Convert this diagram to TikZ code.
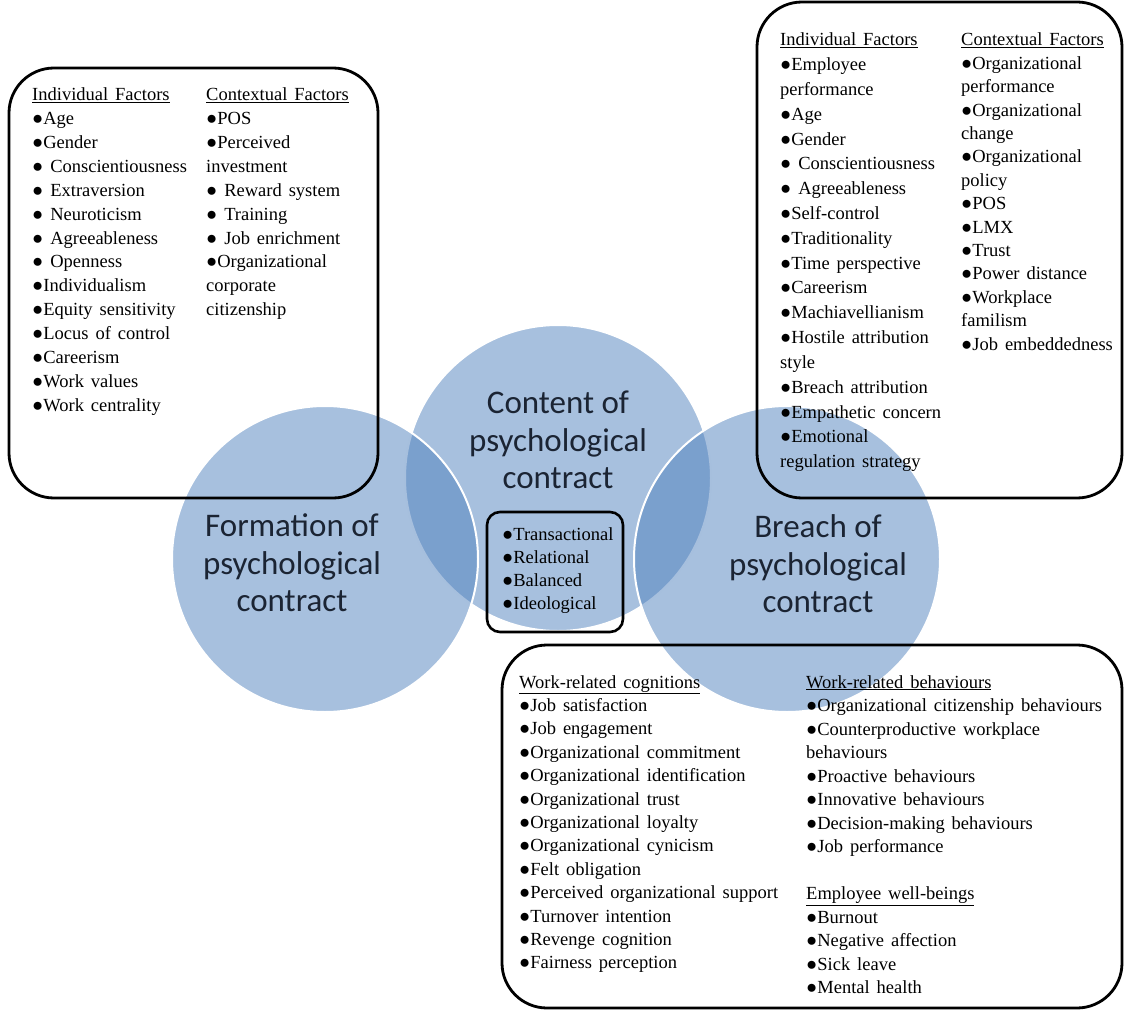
\documentclass[tikz,border=0pt]{standalone}
\usepackage{fontspec}
\setmainfont{Liberation Serif}[WordSpace=1.5]
\newfontfamily\venfont{Carlito}
\definecolor{venn}{HTML}{4F81BD}
\definecolor{labelink}{HTML}{1B2433}
\newcommand\listfont{\fontsize{18.5}{23.8}\selectfont}
\newcommand\setfont{\venfont\fontsize{33}{37.5}\selectfont}
\tikzset{
  vennset/.style={circle, inner sep=0pt, fill=venn, fill opacity=0.5, draw=white, line width=2pt},
  factbox/.style={draw=black, line width=2.8pt, rounded corners=45pt},
  smallbox/.style={draw=black, line width=2.6pt, rounded corners=13pt},
  item/.style={anchor=base west, inner sep=0pt, text=black, font=\listfont},
  vennlabel/.style={align=center, inner sep=0pt, text=labelink, font=\setfont}
}
\begin{document}
\begin{tikzpicture}[x=1pt, y=-1pt]
\useasboundingbox (0,0) rectangle (1125,1011);

% three overlapping sets: the middle one underneath, the outer two on top
\node[vennset, minimum size=306pt] (content) at (558,478) {};
\node[vennset, minimum size=306pt] (formation) at (325,559) {};
\node[vennset, minimum size=306pt] (breach) at (787,559) {};

\node[vennlabel] (contentlbl) at (558,440) {Content of\\psychological\\contract};
\node[vennlabel] (formationlbl) at (292,563) {Formation of\\psychological\\contract};
\node[vennlabel] (breachlbl) at (818,564) {Breach of\\psychological\\contract};

% framed lists
\draw[factbox] (9,68) rectangle (378,498);
\draw[factbox] (757,2) rectangle (1122,498);
\draw[factbox] (502,645) rectangle (1122,1008);
\draw[smallbox] (487,512) rectangle (623,632);

% antecedents of formation
\foreach \txt [count=\i] in {{\underline{Individual Factors}}, ●Age, ●Gender,
  ● Conscientiousness, ● Extraversion, ● Neuroticism, ● Agreeableness,
  ● Openness, ●Individualism, ●Equity sensitivity, ●Locus of control,
  ●Careerism, ●Work values, ●Work centrality}
  {\pgfmathsetmacro\yy{101+23.85*(\i-1)}
   \node[item] (fa\i) at (32,\yy) {\txt};}
\foreach \txt [count=\i] in {{\underline{Contextual Factors}}, ●POS, ●Perceived,
  investment, ● Reward system, ● Training, ● Job enrichment, ●Organizational,
  corporate, citizenship}
  {\pgfmathsetmacro\yy{101+23.85*(\i-1)}
   \node[item] (fb\i) at (206,\yy) {\txt};}

% antecedents of breach
\foreach \txt [count=\i] in {{\underline{Individual Factors}}, ●Employee,
  performance, ●Age, ●Gender, ● Conscientiousness, ● Agreeableness,
  ●Self-control, ●Traditionality, ●Time perspective, ●Careerism,
  ●Machiavellianism, ●Hostile attribution, style, ●Breach attribution,
  ●Empathetic concern, ●Emotional, regulation strategy}
  {\pgfmathsetmacro\yy{46+24.8*(\i-1)}
   \node[item] (ba\i) at (780,\yy) {\txt};}
\foreach \txt [count=\i] in {{\underline{Contextual Factors}}, ●Organizational,
  performance, ●Organizational, change, ●Organizational, policy, ●POS, ●LMX,
  ●Trust, ●Power distance, ●Workplace, familism, ●Job embeddedness}
  {\pgfmathsetmacro\yy{46+23.4*(\i-1)}
   \node[item] (bb\i) at (961,\yy) {\txt};}

% contract types
\foreach \txt [count=\i] in {●Transactional, ●Relational, ●Balanced, ●Ideological}
  {\pgfmathsetmacro\yy{540+23.3*(\i-1)}
   \node[item] (ct\i) at (502,\yy) {\txt};}

% consequences of breach
\foreach \txt [count=\i] in {{\underline{Work-related cognitions}},
  ●Job satisfaction, ●Job engagement, ●Organizational commitment,
  ●Organizational identification, ●Organizational trust,
  ●Organizational loyalty, ●Organizational cynicism, ●Felt obligation,
  ●Perceived organizational support, ●Turnover intention,
  ●Revenge cognition, ●Fairness perception}
  {\pgfmathsetmacro\yy{688+23.4*(\i-1)}
   \node[item] (ca\i) at (519,\yy) {\txt};}
\foreach \txt [count=\i] in {{\underline{Work-related behaviours}},
  ●Organizational citizenship behaviours, ●Counterproductive workplace,
  behaviours, ●Proactive behaviours, ●Innovative behaviours,
  ●Decision-making behaviours, ●Job performance}
  {\pgfmathsetmacro\yy{688+23.5*(\i-1)}
   \node[item] (cb\i) at (806,\yy) {\txt};}
\foreach \txt [count=\i] in {{\underline{Employee well-beings}}, ●Burnout,
  ●Negative affection, ●Sick leave, ●Mental health}
  {\pgfmathsetmacro\yy{899.5+23.5*(\i-1)}
   \node[item] (cc\i) at (806,\yy) {\txt};}
\end{tikzpicture}
\end{document}
